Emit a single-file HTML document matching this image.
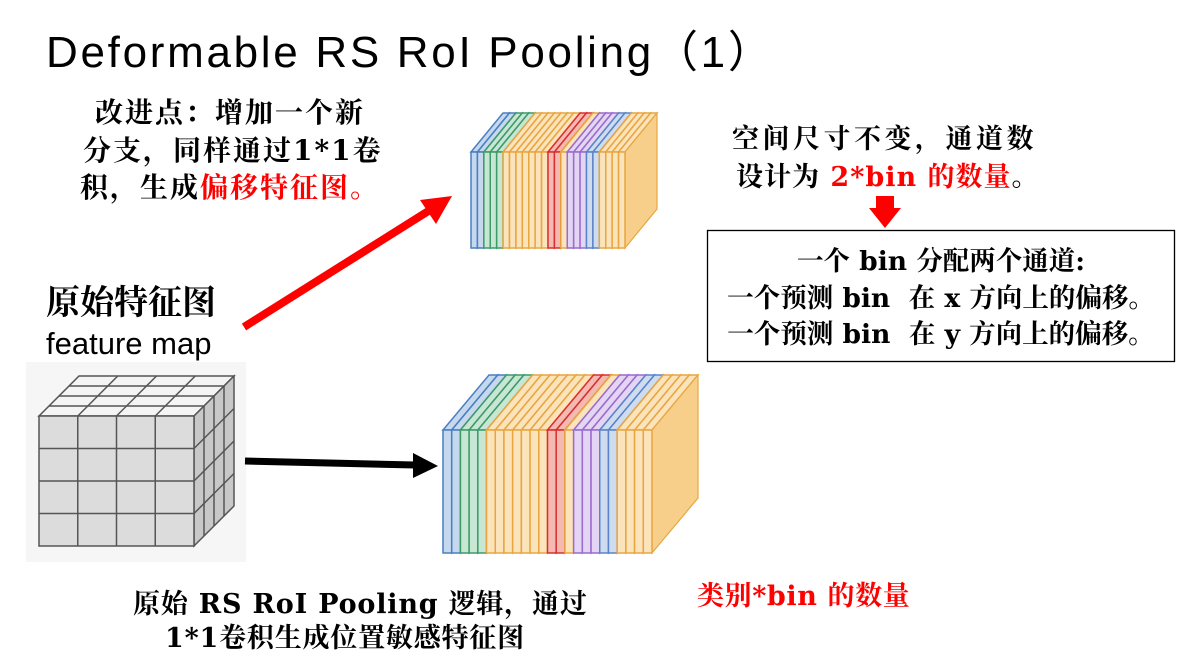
<!DOCTYPE html>
<html><head><meta charset="utf-8"><style>
body{margin:0;width:1193px;height:665px;background:#fff;position:relative;overflow:hidden;font-family:"DejaVu Serif","Noto Serif CJK SC",serif;}
.t{position:absolute;white-space:nowrap;font-weight:bold;color:#000;}
.r{color:#f00}
</style></head><body>
<div class="t" style="left:46px;top:16px;font-size:44px;font-weight:normal;letter-spacing:2.7px;font-family:'Liberation Sans','Noto Sans CJK SC',sans-serif;">Deformable RS RoI Pooling（1）</div>

<div class="t" style="left:95px;top:94px;font-size:28px;line-height:37.5px;letter-spacing:2px;">改进点：增加一个新<br><span style="margin-left:-12px">分支，同样通过1*1卷</span><br><span style="margin-left:-15px">积，生成<span class="r">偏移特征图。</span></span></div>

<div class="t" style="left:46px;top:282px;font-size:34px;line-height:42px;">原始特征图</div>
<div class="t" style="left:46px;top:326px;font-size:31px;font-weight:normal;font-family:'Liberation Sans',sans-serif;">feature map</div>

<div class="t" style="left:732px;top:121px;font-size:27px;line-height:38px;letter-spacing:3.5px;">空间尺寸不变，通道数<br><span style="margin-left:4px;letter-spacing:1px">设计为 <span class="r">2*bin 的数量</span>。</span></div>

<svg style="position:absolute;left:0;top:0" width="1193" height="665">
<rect x="26" y="362" width="220" height="200" fill="#f6f6f6"/>
<polygon points="876,196 894,196 894,208 901,208 885,228 869,208 876,208" fill="#f00"/>
<rect x="707.5" y="230.5" width="467" height="131" fill="none" stroke="#000" stroke-width="1.3"/>
<line x1="244" y1="327" x2="430" y2="210" stroke="#f00" stroke-width="8"/>
<polygon points="452,196 420,200 436,224" fill="#f00"/>
<line x1="245" y1="461" x2="415" y2="465" stroke="#000" stroke-width="7"/>
<polygon points="438,466 413,453 413,478" fill="#000"/>
<g id="cube" stroke="#555" stroke-width="1.5"></g>
<g id="s1"></g><g id="s2"></g>
</svg>

<div class="t" style="left:704px;top:244px;font-size:26.5px;line-height:36.5px;text-align:center;width:474px;">一个 bin 分配两个通道:<br>一个预测 bin&nbsp; 在 x 方向上的偏移。<br>一个预测 bin&nbsp; 在 y 方向上的偏移。</div>

<div class="t" style="left:133px;top:588px;font-size:27px;line-height:34px;letter-spacing:0.8px;">原始 RS RoI Pooling 逻辑，通过<br><span style="margin-left:32px">1*1卷积生成位置敏感特征图</span></div>
<div class="t r" style="left:697px;top:574px;font-size:27px;letter-spacing:0.6px;">类别*bin 的数量</div>

<script>
var NS="http://www.w3.org/2000/svg";
function el(g,tag,a){var e=document.createElementNS(NS,tag);for(var k in a)e.setAttribute(k,a[k]);g.appendChild(e);return e;}
(function(){var g=document.getElementById('cube');
var x0=39,y0=416,W=155,H=130,dx=40,dy=-40,n=4;
el(g,'polygon',{points:[x0,y0,x0+dx,y0+dy,x0+W+dx,y0+dy,x0+W,y0].join(','),fill:'#f4f4f4'});
el(g,'polygon',{points:[x0+W,y0,x0+W+dx,y0+dy,x0+W+dx,y0+H+dy,x0+W,y0+H].join(','),fill:'#c8c8c8'});
el(g,'rect',{x:x0,y:y0,width:W,height:H,fill:'#dcdcdc'});
for(var i=1;i<n;i++){var f=i/n;
el(g,'line',{x1:x0+W*f,y1:y0,x2:x0+W*f,y2:y0+H});
el(g,'line',{x1:x0,y1:y0+H*f,x2:x0+W,y2:y0+H*f});
el(g,'line',{x1:x0+W*f,y1:y0,x2:x0+W*f+dx,y2:y0+dy});
el(g,'line',{x1:x0+dx*f,y1:y0+dy*f,x2:x0+W+dx*f,y2:y0+dy*f});
el(g,'line',{x1:x0+W+dx*f,y1:y0+dy*f,x2:x0+W+dx*f,y2:y0+H+dy*f});
el(g,'line',{x1:x0+W,y1:y0+H*f,x2:x0+W+dx,y2:y0+H*f+dy});}
})();
var cols=[['#4a7fc0','#c5d8ee'],['#4a7fc0','#c5d8ee'],['#3f9a6a','#c7e6d4'],['#3f9a6a','#c7e6d4'],['#3f9a6a','#c7e6d4'],
['#e8a640','#fbe3bb'],['#e8a640','#fbe3bb'],['#e8a640','#fbe3bb'],['#e8a640','#fbe3bb'],['#e8a640','#fbe3bb'],['#e8a640','#fbe3bb'],['#e8a640','#fbe3bb'],
['#d83030','#f4b9b0'],['#d83030','#f4b9b0'],['#e8a640','#fbe3bb'],
['#9a6ccc','#e3d5f3'],['#9a6ccc','#e3d5f3'],['#9a6ccc','#e3d5f3'],['#5a84c8','#cfdcef'],['#5a84c8','#cfdcef'],
['#e8a640','#fbe3bb'],['#e8a640','#fbe3bb'],['#e8a640','#fbe3bb'],['#e8a640','#fbe3bb']];
function stack(id,x0,y0,W,H,dx,dy){var g=document.getElementById(id);var n=cols.length,s=W/n;
for(var i=0;i<n;i++){var x=x0+i*s,c=cols[i];
var last=i==n-1;
el(g,'polygon',{points:[x,y0,x+dx,y0+dy,x+s+dx,y0+dy,x+s,y0].join(','),fill:c[1],stroke:c[0],'stroke-width':1.5});
el(g,'polygon',{points:[x+s,y0,x+s+dx,y0+dy,x+s+dx,y0+H+dy,x+s,y0+H].join(','),fill:last?'#f7cf8a':c[1],stroke:c[0],'stroke-width':1.2,'fill-opacity':last?1:0.9});
el(g,'rect',{x:x,y:y0,width:s,height:H,fill:c[1],stroke:c[0],'stroke-width':1.5});}
}
stack('s1',471,152,154,96,32,-39);
stack('s2',443,430,209,123,46,-55);
</script>
</body></html>
